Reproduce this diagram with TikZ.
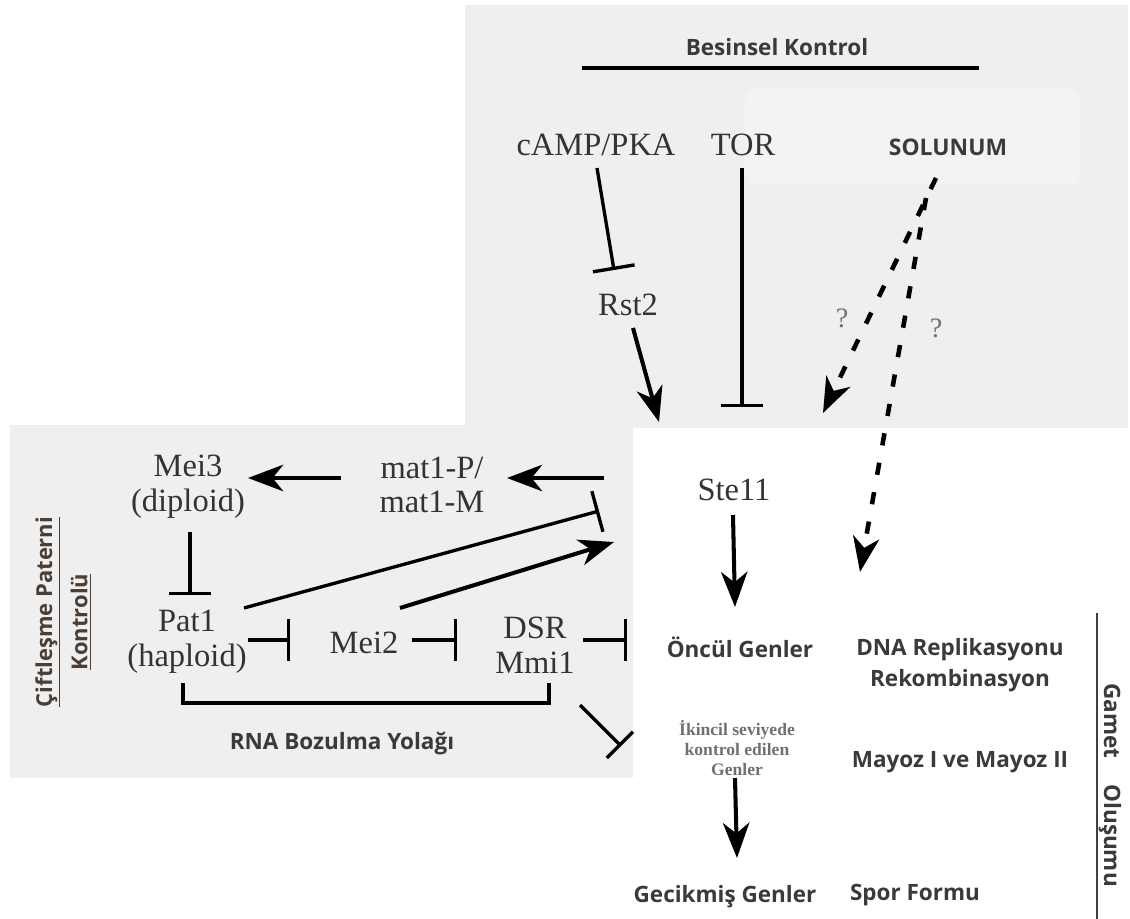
\documentclass[tikz,border=0pt]{standalone}
\usepackage{fontspec}
\setmainfont{Liberation Serif}
\setsansfont{Open Sans}
\usetikzlibrary{arrows.meta}
\definecolor{panel}{HTML}{EFEFEF}
\definecolor{panelL}{HTML}{F3F3F3}
\definecolor{txt}{HTML}{333333}
\definecolor{stxt}{HTML}{3A3A3A}
\definecolor{brn}{HTML}{4A3F37}
\definecolor{gtxt}{HTML}{707070}
\tikzset{
  ser/.style={font=\fontsize{18.5}{19.8}\selectfont, text=txt, align=center, inner sep=0pt},
  sansb/.style={font=\sffamily\bfseries\fontsize{12.8}{17.6}\selectfont, text=stxt, align=center, inner sep=0pt},
  qmark/.style={font=\fontsize{16}{18}\selectfont, text=gtxt, inner sep=0pt},
  actarrow/.style={line width=2.3pt, -{Stealth[length=20pt,width=15pt,inset=6pt]}},
  inhib/.style={line width=1.9pt, -{Bar[width=24pt]}},
  dasharrow/.style={line width=2.6pt, dash pattern=on 7pt off 10pt, -{Stealth[length=20pt,width=15pt,inset=6pt]}},
}
\begin{document}
\begin{tikzpicture}[x=0.02cm,y=-0.02cm]
\useasboundingbox (0,0) rectangle (1130,919);
\fill[white] (0,0) rectangle (1130,919);
% grey panels
\fill[panel] (465,5) rectangle (1128,428);
\fill[panel] (10,425) rectangle (633,778);
\fill[panelL, rounded corners=6pt] (745,88) rectangle (1080,185);

% --- Besinsel Kontrol ---
\node[sansb] (bes) at (777,47) {Besinsel Kontrol};
\draw[line width=2pt] (582,68) -- (979,68);

\node[ser] (camp) at (596,145) {cAMP/PKA};
\node[ser] (tor) at (743,145) {TOR};
\node[sansb, font=\sffamily\bfseries\fontsize{13}{15}\selectfont] (sol) at (948,147) {SOLUNUM};
\node[ser] (rst2) at (628,305) {Rst2};
\node[qmark] (q1) at (842,318) {?};
\node[qmark] (q2) at (936,328) {?};

% --- right column ---
\node[ser] (ste11) at (734,490) {Ste11};
\node[sansb] (oncul) at (740,647) {Öncül Genler};
\node[sansb] (dna) at (960,665) {DNA Replikasyonu\\Rekombinasyon};
\node[font=\bfseries\fontsize{10}{11.3}\selectfont, text=gtxt, align=center, inner sep=0pt] (ikincil) at (737,748) {İkincil seviyede\\kontrol edilen\\Genler};
\node[sansb] (mayoz) at (960,762) {Mayoz I ve Mayoz II};
\node[sansb] (gecik) at (725,897) {Gecikmiş Genler};
\node[sansb] (spor) at (915,895) {Spor Formu};
\node[sansb, rotate=-90] (gamet) at (1110,785) {Gamet\hspace{15pt}Oluşumu};
\coordinate (gtop) at (1097,613);
\coordinate (gbot) at (1097,919);
\draw[line width=1.3pt, black!75] (gtop) -- (gbot);

% --- left panel ---
\node[ser] (mei3) at (188,487) {Mei3\\(diploid)};
\node[ser] (mat1) at (432,485) {mat1-P/\\mat1-M};
\node[ser] (pat1) at (187,642) {Pat1\\(haploid)};
\node[ser] (mei2) at (364,643) {Mei2};
\node[ser] (dsr) at (535,645) {DSR\\Mmi1};
\node[sansb] (rna) at (342,744) {RNA Bozulma Yolağı};
\node[sansb, rotate=90, text=brn, font=\sffamily\bfseries\fontsize{12.5}{15}\selectfont] (cift) at (48,612) {\underline{Çiftleşme Paterni}};
\node[sansb, rotate=90, text=brn, font=\sffamily\bfseries\fontsize{12.5}{15}\selectfont] (kont) at (81,622) {\underline{Kontrolü}};

% --- connector end points ---
\coordinate (campS) at (597,168);
\coordinate (rst2N) at (614,270);
\coordinate (rst2S) at (633,328);
\coordinate (ste11N1) at (659,422);
\coordinate (torS) at (742,168);
\coordinate (ste11N2) at (742,407);
\coordinate (solS1) at (936,178);
\coordinate (ste11N3) at (823,413);
\coordinate (solS2) at (926,198);
\coordinate (dnaN) at (860,572);
\coordinate (ste11S) at (733,515);
\coordinate (onculN) at (735,607);
\coordinate (ikincilS) at (735,778);
\coordinate (gecikN) at (737,858);
\coordinate (ste11W) at (604,478);
\coordinate (mat1E) at (507,478);
\coordinate (mat1W) at (341,478);
\coordinate (mei3E) at (248,478);
\coordinate (mei3S) at (190,532);
\coordinate (pat1N) at (190,595);
\coordinate (pat1NE) at (244,608);
\coordinate (ste11SW) at (599,511);
\coordinate (mei2NE) at (400,608);
\coordinate (ste11SW2) at (614,542);
\coordinate (pat1E) at (248,640);
\coordinate (mei2W) at (290,640);
\coordinate (mei2E) at (412,640);
\coordinate (dsrW) at (457,640);
\coordinate (dsrE) at (583,640);
\coordinate (onculW) at (627,640);
\coordinate (dsrSE) at (580,705);
\coordinate (ikincilW) at (621,746);
\coordinate (pat1S) at (183,683);
\coordinate (dsrS) at (549,683);

% --- connectors ---
\draw[inhib] (campS) -- (rst2N);
\draw[actarrow] (rst2S) -- (ste11N1);
\draw[inhib] (torS) -- (ste11N2);
\draw[dasharrow] (solS1) -- (ste11N3);
\draw[dasharrow] (solS2) -- (dnaN);
\draw[actarrow] (ste11S) -- (onculN);
\draw[actarrow] (ikincilS) -- (gecikN);
\draw[actarrow] (ste11W) -- (mat1E);
\draw[actarrow] (mat1W) -- (mei3E);
\draw[inhib] (mei3S) -- (pat1N);
\draw[inhib] (pat1NE) -- (ste11SW);
\draw[actarrow] (mei2NE) -- (ste11SW2);
\draw[inhib] (pat1E) -- (mei2W);
\draw[inhib] (mei2E) -- (dsrW);
\draw[inhib] (dsrE) -- (onculW);
\draw[inhib, -{Bar[width=21pt]}] (dsrSE) -- (ikincilW);
\draw[line width=1.9pt] (pat1S) -- ++(0,20) -| (dsrS);
\end{tikzpicture}
\end{document}
